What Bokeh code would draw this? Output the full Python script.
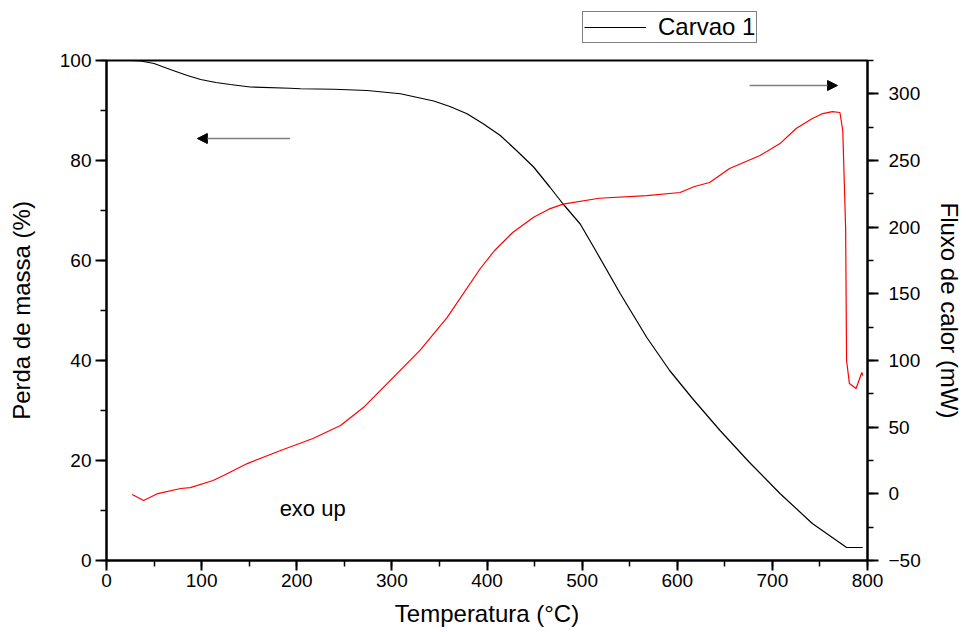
from bokeh.plotting import figure
from bokeh.layouts import column
from bokeh.models import (Range1d, LinearAxis, SingleIntervalTicker, Legend,
                          LegendItem, Arrow, NormalHead, Label)
from bokeh.embed import file_html
from bokeh.resources import INLINE

# ---- data ----
temp_mass = [26, 36, 50, 67, 85, 99, 115, 130, 151, 193, 204, 239, 274, 309,
             344, 361, 379, 396, 414, 431, 449, 466, 480, 498, 513, 540, 568,
             592, 616, 645, 676, 708, 742, 778, 795]
mass = [100, 99.9, 99.4, 98.2, 97.0, 96.2, 95.6, 95.2, 94.7, 94.45, 94.35,
        94.25, 94.0, 93.35, 91.9, 90.8, 89.35, 87.35, 85.0, 82.0, 78.7, 74.7,
        71.3, 67.3, 62.4, 53.4, 44.6, 38.0, 32.4, 26.0, 19.6, 13.4, 7.4, 2.6,
        2.6]

temp_heat = [27, 39, 54, 78, 88, 112, 123, 148, 183, 217, 246, 270, 295, 330,
             358, 393, 408, 427, 449, 465, 480, 518, 568, 603, 618, 634, 655,
             687, 708, 725, 742, 753, 763, 771, 774, 777, 778, 781, 788, 791,
             794, 795]
heat = [-0.5, -5, 0.2, 4, 4.7, 10, 13.7, 22.7, 32.5, 41.5, 51.2, 64.7, 82.7,
        108.0, 132.2, 169, 182.5, 196, 207.5, 213.5, 217.3, 221.7, 223.7, 226,
        230.5, 233.5, 244, 253.7, 262.7, 274, 281.5, 285.2, 286.7, 286, 272.5,
        199.7, 100, 82.7, 79, 85, 91, 88.7]

series_name = "Carvao 1"
FONT = "Liberation Sans"
W = 965
TOP_H = 48

# ---- main chart ----
p = figure(width=W, height=584, x_range=Range1d(0, 800), y_range=Range1d(0, 100),
           output_backend="svg", toolbar_location=None,
           min_border_left=106, min_border_right=97, min_border_top=12,
           min_border_bottom=72, x_axis_location=None, y_axis_location=None)
p.xgrid.visible = False
p.ygrid.visible = False
p.outline_line_color = "black"
p.outline_line_width = 2
p.background_fill_color = "white"
p.border_fill_color = "white"
p.extra_y_ranges = {"heat": Range1d(-50, 325)}


def style(ax, tick_out=11, minor_out=6, label_size="19px"):
    ax.axis_line_width = 2
    ax.axis_line_color = "black"
    ax.major_tick_line_width = 2
    ax.minor_tick_line_width = 1.5
    ax.major_tick_in = 0
    ax.minor_tick_in = 0
    ax.major_tick_out = tick_out
    ax.minor_tick_out = minor_out
    ax.major_label_text_font = FONT
    ax.major_label_text_font_size = label_size
    ax.major_label_text_color = "black"
    ax.axis_label_text_font = FONT
    ax.axis_label_text_font_size = "24px"
    ax.axis_label_text_font_style = "normal"
    ax.axis_label_text_color = "black"


xaxis = LinearAxis(ticker=SingleIntervalTicker(interval=100, num_minor_ticks=2),
                   axis_label="Temperatura (°C)")
style(xaxis, tick_out=10, minor_out=6)
xaxis.major_label_standoff = 3
xaxis.axis_label_standoff = 10
p.add_layout(xaxis, "below")

yaxis = LinearAxis(ticker=SingleIntervalTicker(interval=20, num_minor_ticks=2),
                   axis_label="Perda de massa (%)")
style(yaxis)
yaxis.major_label_standoff = 4
yaxis.axis_label_standoff = 22
p.add_layout(yaxis, "left")

raxis = LinearAxis(y_range_name="heat",
                   ticker=SingleIntervalTicker(interval=50, num_minor_ticks=2),
                   axis_label="Fluxo de calor (mW)")
style(raxis)
raxis.major_label_standoff = 10
raxis.axis_label_standoff = 12
p.add_layout(raxis, "right")

r_mass = p.line(temp_mass, mass, line_color="black", line_width=1.2)
r_heat = p.line(temp_heat, heat, line_color="red", line_width=1.2, y_range_name="heat")

# direction arrows
p.add_layout(Arrow(x_start=193, y_start=84.4, x_end=95.5, y_end=84.4,
                   line_color="#808080", line_width=1.6,
                   end=NormalHead(size=10, fill_color="black", line_color="black")))
p.add_layout(Arrow(x_start=676, y_start=95, x_end=768.5, y_end=95,
                   line_color="#808080", line_width=1.6,
                   end=NormalHead(size=10, fill_color="black", line_color="black")))

p.add_layout(Label(x=182, y=10.4, text="exo up", text_font=FONT,
                   text_font_size="22px", text_baseline="alphabetic",
                   text_color="black"))

# ---- legend strip above the chart (frames are aligned by the column) ----
top = figure(width=W, height=TOP_H, x_range=Range1d(0, 1), y_range=Range1d(0, 1),
             output_backend="svg", toolbar_location=None,
             min_border_left=0, min_border_right=0, min_border_top=0,
             min_border_bottom=0, x_axis_location=None, y_axis_location=None)
top.xgrid.visible = False
top.ygrid.visible = False
top.outline_line_color = None
top.background_fill_color = "white"
top.border_fill_color = "white"
r_key = top.line(temp_mass, mass, line_color="black", line_width=1.2, visible=False)

legend = Legend(items=[LegendItem(label=series_name, renderers=[r_key])],
                location=(476, 5), orientation="vertical")
legend.border_line_color = "black"
legend.border_line_width = 1
legend.padding = 1
legend.margin = 0
legend.spacing = 0
legend.glyph_width = 62
legend.glyph_height = 20
legend.label_height = 20
legend.label_standoff = 12
legend.label_text_font = FONT
legend.label_text_font_size = "24px"
legend.label_text_color = "black"
legend.background_fill_color = "white"
legend.background_fill_alpha = 1
legend.inactive_fill_alpha = 0
top.add_layout(legend)

layout = column(top, p, spacing=0)
open("out.html", "w").write(file_html(layout, INLINE))
